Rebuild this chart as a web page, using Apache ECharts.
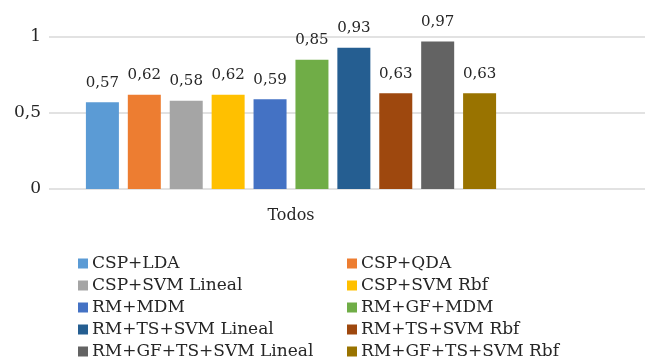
<!DOCTYPE html>
<html><head><meta charset="utf-8">
<script src="https://cdn.jsdelivr.net/npm/echarts@6/dist/echarts.min.js"></script>
<style>html,body{margin:0;padding:0;background:#fff}#c{width:645px;height:364px}</style>
</head><body><div id="c"></div>
<script>
const categories = ['Todos'];
const seriesNames = ['CSP+LDA','CSP+QDA','CSP+SVM Lineal','CSP+SVM Rbf','RM+MDM','RM+GF+MDM','RM+TS+SVM Lineal','RM+TS+SVM Rbf','RM+GF+TS+SVM Lineal','RM+GF+TS+SVM Rbf'];
const seriesValues = [0.57,0.62,0.58,0.62,0.59,0.85,0.93,0.63,0.97,0.63];
const colors = ['#5B9BD5','#ED7D31','#A5A5A5','#FFC000','#4472C4','#70AD47','#255E91','#9E480E','#636363','#997300'];
const yTicks = [0, 0.5, 1];

const FONT = 'DejaVu Serif';
const TXT = '#262626';
const fmt = v => String(v).replace('.', ',');

const chart = echarts.init(document.getElementById('c'));
chart.setOption({
  animation: false,
  color: colors,
  textStyle: { fontFamily: FONT },
  grid: [
    { left: 49, top: 37, width: 484, bottom: 175 },
    { left: 49, top: 37, right: 0, bottom: 175 }
  ],
  xAxis: [
    { type: 'category', gridIndex: 0, data: categories,
      axisLine: { show: false }, axisTick: { show: false },
      axisLabel: { margin: 19, formatter: v => '{t|' + v + '}',
        rich: { t: { fontFamily: FONT, fontSize: 16, color: TXT } } } },
    { type: 'value', gridIndex: 1, show: false, min: 0, max: 1 }
  ],
  yAxis: [
    { type: 'value', gridIndex: 0, min: yTicks[0], max: yTicks[yTicks.length-1], interval: 0.5,
      splitLine: { show: false }, axisLine: { show: false }, axisTick: { show: false },
      axisLabel: { fontFamily: FONT, fontSize: 17, color: TXT, margin: 8, formatter: v => fmt(v) } },
    { type: 'value', gridIndex: 1, min: yTicks[0], max: yTicks[yTicks.length-1], interval: 0.5,
      axisLabel: { show: false }, axisLine: { show: false }, axisTick: { show: false },
      splitLine: { show: true, lineStyle: { color: '#d9d9d9', width: 1.5 } } }
  ],
  legend: [
    { orient: 'vertical', left: 78, top: 255, padding: 0, itemWidth: 10, itemHeight: 10, itemGap: 5, icon: 'rect',
      data: seriesNames.filter((_, i) => i % 2 === 0),
      textStyle: { fontFamily: FONT, fontSize: 17, lineHeight: 17, color: TXT, padding: [0,0,0,-1] } },
    { orient: 'vertical', left: 347, top: 255, padding: 0, itemWidth: 10, itemHeight: 10, itemGap: 5, icon: 'rect',
      data: seriesNames.filter((_, i) => i % 2 === 1),
      textStyle: { fontFamily: FONT, fontSize: 17, lineHeight: 17, color: TXT, padding: [0,0,0,-1] } }
  ],
  series: seriesNames.map((name, i) => ({
    name, type: 'bar', xAxisIndex: 0, yAxisIndex: 0,
    data: [seriesValues[i]],
    barWidth: 33, barGap: '27%',
    label: { show: true, position: 'top', distance: 12, fontFamily: FONT, fontSize: 15, color: TXT,
      formatter: p => p.value.toFixed(2).replace('.', ',') }
  }))
});
</script></body></html>
